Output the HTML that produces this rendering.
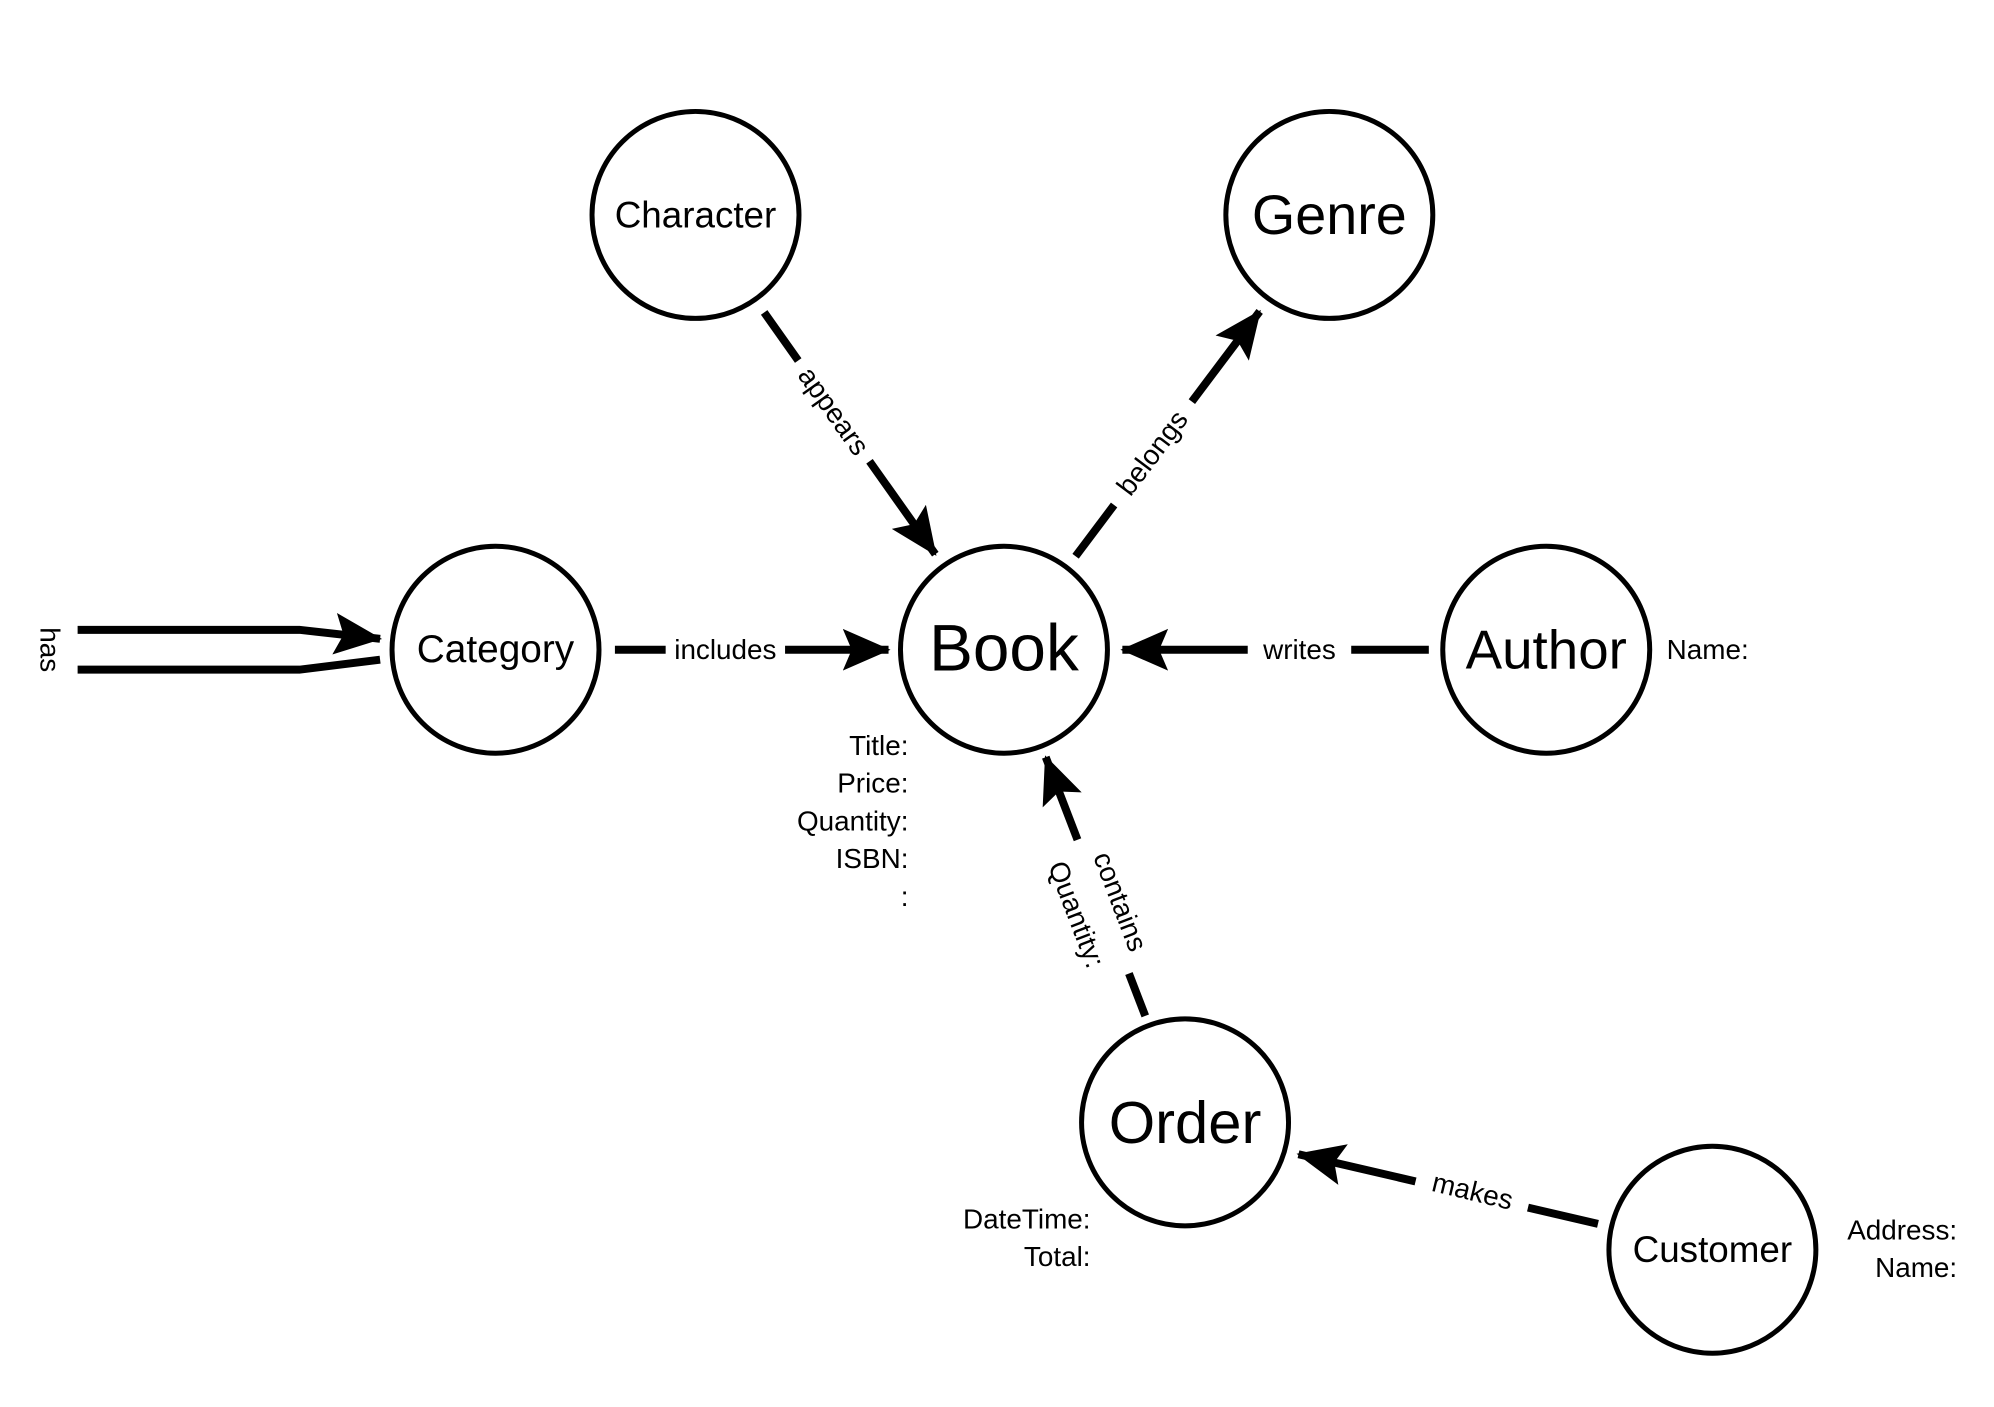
<!DOCTYPE html>
<html><head><meta charset="utf-8"><style>html,body{margin:0;padding:0;background:#fff}svg{display:block}text{font-family:"Liberation Sans",Arial,sans-serif;fill:#000}</style></head>
<body>
<svg width="1994" height="1407" viewBox="0 0 1994 1407" xmlns="http://www.w3.org/2000/svg">
<defs>
<marker id="a" markerUnits="userSpaceOnUse" markerWidth="52" markerHeight="44" refX="46" refY="21" orient="auto">
<path d="M0,0 L48,21 L0,42 L9,21 Z" fill="#000"/>
</marker>
</defs>
<g transform="matrix(0.995,0,0,0.995,1,1)">
<g stroke="#000" stroke-width="8" fill="none">
<line x1="767" y1="313" x2="939" y2="556" marker-end="url(#a)"/>
<line x1="1080" y1="558" x2="1265" y2="312" marker-end="url(#a)"/>
<line x1="617" y1="652" x2="892" y2="652" marker-end="url(#a)"/>
<line x1="1435" y1="652" x2="1127" y2="652" marker-end="url(#a)"/>
<line x1="1150" y1="1020" x2="1050" y2="760" marker-end="url(#a)"/>
<line x1="1605" y1="1229" x2="1304" y2="1159" marker-end="url(#a)"/>
<path d="M77,632 L300,632 L381,641" marker-end="url(#a)"/>
<path d="M77,672 L300,672 L381,662"/>
</g>
<g fill="#fff">
<rect x="-62" y="-20" width="124" height="40" transform="translate(837,412) rotate(54.6)"/>
<rect x="-65" y="-20" width="130" height="40" transform="translate(1157,454) rotate(-53)"/>
<rect x="-60" y="-18" width="120" height="36" transform="translate(728,652)"/>
<rect x="-52" y="-18" width="104" height="36" transform="translate(1305,652)"/>
<rect x="-72" y="-40" width="144" height="80" transform="translate(1103,912) rotate(69)"/>
<rect x="-58" y="-20" width="116" height="40" transform="translate(1479,1196) rotate(13.6)"/>
</g>
<g stroke="#000" stroke-width="5" fill="#fff">
<circle cx="698" cy="215" r="104"/>
<circle cx="1335" cy="215" r="104"/>
<circle cx="1008" cy="652" r="104"/>
<circle cx="497" cy="652" r="104"/>
<circle cx="1553" cy="652" r="104"/>
<circle cx="1190" cy="1127" r="104"/>
<circle cx="1720" cy="1255" r="104"/>
</g>
<g text-anchor="middle" dominant-baseline="central">
<text x="698" y="215" font-size="37">Character</text>
<text x="1335" y="215" font-size="56">Genre</text>
<text x="1008" y="650" font-size="66">Book</text>
<text x="497" y="652" font-size="39">Category</text>
<text x="1553" y="652" font-size="55">Author</text>
<text x="1190" y="1127" font-size="60">Order</text>
<text x="1720" y="1255" font-size="37">Customer</text>
<g font-size="28">
<text transform="translate(837,412) rotate(54.6)">appears</text>
<text transform="translate(1157,454) rotate(-53)">belongs</text>
<text x="728" y="652">includes</text>
<text x="1305" y="652">writes</text>
<text transform="translate(1125,905) rotate(69)">contains</text>
<text transform="translate(1081,918) rotate(69)">Quantity:</text>
<text transform="translate(1479,1196) rotate(13.6)">makes</text>
<text transform="translate(49,652) rotate(90)">has</text>
</g>
</g>
<g font-size="28" dominant-baseline="central" text-anchor="end">
<text x="912" y="748">Title:</text>
<text x="912" y="786">Price:</text>
<text x="912" y="824">Quantity:</text>
<text x="912" y="862">ISBN:</text>
<text x="912" y="900">:</text>
<text x="1095" y="1224">DateTime:</text>
<text x="1095" y="1262">Total:</text>
<text x="1966" y="1235">Address:</text>
<text x="1966" y="1273">Name:</text>
</g>
<text x="1674" y="652" font-size="28" dominant-baseline="central">Name:</text>
</g>
</svg>
</body></html>
